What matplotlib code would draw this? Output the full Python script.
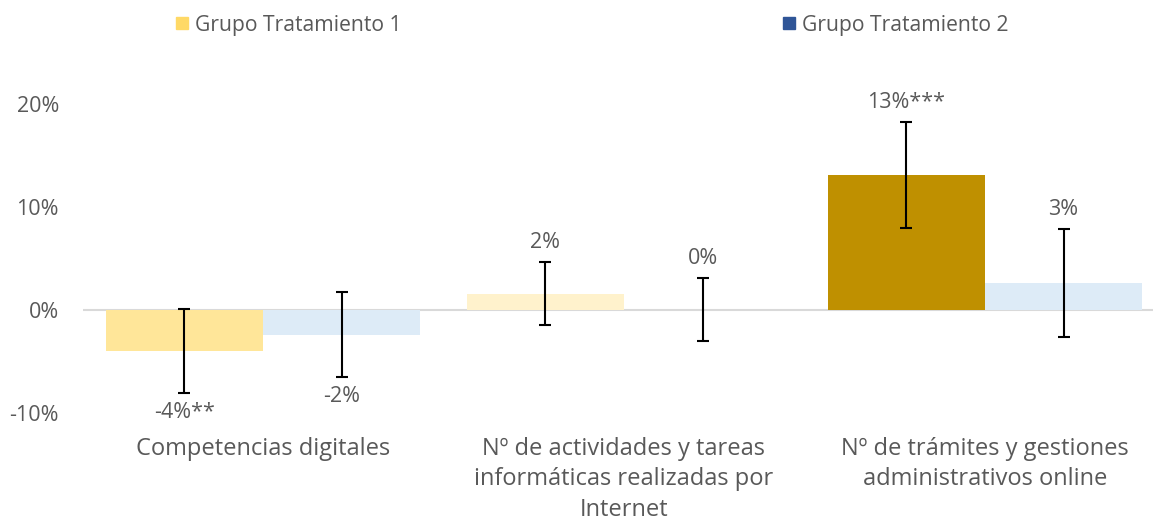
import matplotlib
matplotlib.use("Agg")
import matplotlib.pyplot as plt
from matplotlib.patches import Patch
import numpy as np

categories = ["Competencias digitales",
              "Nº de actividades y tareas\ninformáticas realizadas por\nInternet",
              "Nº de trámites y gestiones\nadministrativos online"]
series_names = ["Grupo Tratamiento 1", "Grupo Tratamiento 2"]
t1_values = [-4.0, 1.55, 13.1]
t2_values = [-2.4, 0.0, 2.6]
t1_err = [4.1, 3.05, 5.15]
t2_err = [4.15, 3.05, 5.2]
t1_labels = ["-4%**", "2%", "13%***"]
t2_labels = ["-2%", "0%", "3%"]
yticks = [-10, 0, 10, 20]
ytick_labels = ["-10%", "0%", "10%", "20%"]

t1_colors = ["#FFE699", "#FFF2CC", "#BF9000"]
t2_colors = ["#DDEBF7", "#DDEBF7", "#DDEBF7"]
legend_colors = ["#FFD966", "#2F5597"]

plt.rcParams['font.family'] = ['Open Sans', 'DejaVu Sans']
text_color = "#595959"

fig = plt.figure(figsize=(11.53, 5.22), dpi=100)
W, H = 1153, 522
ax_left, ax_right = 82.5, 1165.5
ax_top, ax_bottom = 103.5, 413
ax = fig.add_axes([ax_left / W, (H - ax_bottom) / H, (ax_right - ax_left) / W, (ax_bottom - ax_top) / H])

x = np.arange(len(categories))
bw = 0.435
ax.bar(x - bw / 2, t1_values, width=bw, color=t1_colors, zorder=2)
ax.bar(x + bw / 2, t2_values, width=bw, color=t2_colors, zorder=2)
ax.axhline(0, color="#D9D9D9", lw=1.5, zorder=1)
ax.errorbar(x - bw / 2, t1_values, yerr=t1_err, fmt="none", ecolor="black", elinewidth=1.5, capsize=4.3, capthick=1.5, zorder=3)
ax.errorbar(x + bw / 2, t2_values, yerr=t2_err, fmt="none", ecolor="black", elinewidth=1.5, capsize=4.3, capthick=1.5, zorder=3)

label_fs = 15.5

def put_labels(xs, vals, errs, labels):
    for xi, v, e, lab in zip(xs, vals, errs, labels):
        if lab.startswith("-"):
            ax.annotate(lab, (xi, v - e), xytext=(0, -14), textcoords="offset points",
                        ha="center", va="center", fontsize=label_fs, color=text_color)
        else:
            ax.annotate(lab, (xi, v + e), xytext=(0, 14), textcoords="offset points",
                        ha="center", va="center", fontsize=label_fs, color=text_color)

put_labels(x - bw / 2, t1_values, t1_err, t1_labels)
put_labels(x + bw / 2, t2_values, t2_err, t2_labels)

ax.set_xlim(-0.5, len(categories) - 0.5)
ax.set_ylim(-10, 20)
ax.set_yticks(yticks)
ax.set_yticklabels(ytick_labels, fontsize=15.5, color=text_color)
ax.set_xticks(x)
ax.set_xticklabels(categories, fontsize=17, color=text_color, linespacing=1.38)
ax.tick_params(axis="both", length=0)
ax.tick_params(axis="y", pad=17)
ax.tick_params(axis="x", pad=17)
for s in ax.spines.values():
    s.set_visible(False)

leg_kw = dict(loc="center left", frameon=False, fontsize=15.2, labelcolor=text_color,
              handlelength=0.55, handleheight=0.55, handletextpad=0.33,
              borderaxespad=0, borderpad=0)
fig.legend(handles=[Patch(color=legend_colors[0])], labels=[series_names[0]],
           bbox_to_anchor=(176 / W, 1 - 25 / H), **leg_kw)
fig.legend(handles=[Patch(color=legend_colors[1])], labels=[series_names[1]],
           bbox_to_anchor=(783 / W, 1 - 25 / H), **leg_kw)

fig.savefig("out.png", dpi=100)
